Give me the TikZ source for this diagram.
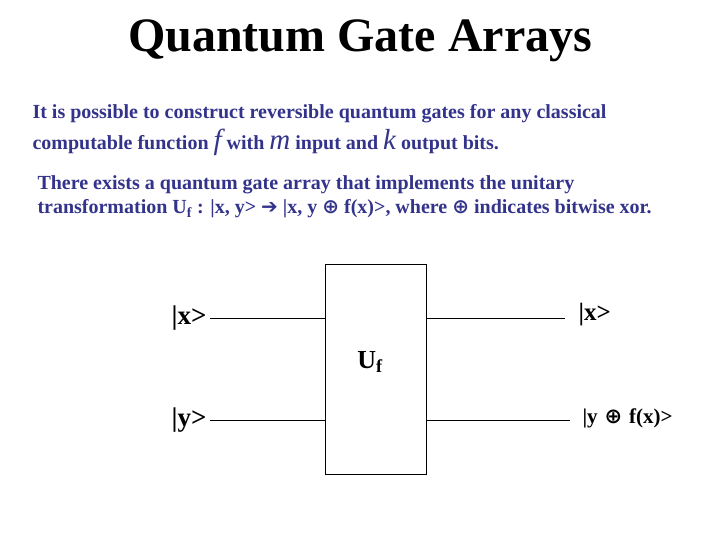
\documentclass[tikz,border=0pt]{standalone}
\usepackage{fontspec}
\setmainfont{Liberation Serif}
\newfontfamily\symfont{DejaVu Sans}
\usetikzlibrary{positioning,calc}
\definecolor{slateblue}{RGB}{51,51,140}
\newcommand{\xor}{{\symfont\bfseries ⊕}}
\newcommand{\bigit}[1]{{\fontsize{29}{29}\selectfont\normalfont\itshape #1}}

\begin{document}
\begin{tikzpicture}[x=1pt, y=-1pt, line width=1pt,
  txt/.style={anchor=base west, inner sep=0pt, text=slateblue, font=\fontsize{20}{20}\selectfont\bfseries},
  ket/.style={inner sep=0pt, font=\fontsize{27}{27}\selectfont\bfseries},
  gate/.style={draw, minimum width=101pt, minimum height=210pt, inner sep=0pt}]
\useasboundingbox (0,0) rectangle (720,540);
\node[anchor=base, inner sep=0pt, font=\fontsize{48}{48}\selectfont\bfseries] (title) at (360,52) {Quantum Gate Arrays};
\node[txt] (l1) at (32,119) {It is possible to construct reversible quantum gates for any classical};
\node[txt] (l2) at (32,150) {computable function \bigit{f} with \bigit{m} input and \bigit{k} output bits.};
\node[txt] (l3) at (37,190) {There exists a quantum gate array that implements the unitary};
\node[txt] (l4) at (37,214) {transformation U\textsubscript{f} : |x, y> {\symfont\bfseries ➔} |x, y \xor{} f(x)>, where \xor{} indicates bitwise xor.};
% gate and wires
\node[gate] (uf) at (375.5,369) {};
\node[ket, font=\fontsize{26}{26}\selectfont\bfseries] (uflbl) at (370,362) {U\textsubscript{f}};
\node[ket, anchor=east] (xin) at (207,318) {|x>};
\node[ket, anchor=east] (yin) at (207,420) {|y>};
\node[ket, anchor=west, font=\fontsize{25}{25}\selectfont\bfseries] (xout) at (578,315) {|x>};
\node[ket, anchor=west, font=\fontsize{21}{21}\selectfont\bfseries] (yout) at (582,418) {|y\hspace{7pt}\xor\hspace{7pt}f(x)>};
\coordinate (xe) at (565,318);
\coordinate (ye) at (570,420);
\foreach \a/\b in {xin/xe, yin/ye} {
  \draw ([xshift=3pt]\a.east |- \b) -- (uf.west |- \b);
  \draw (uf.east |- \b) -- (\b);
}
\end{tikzpicture}
\end{document}
